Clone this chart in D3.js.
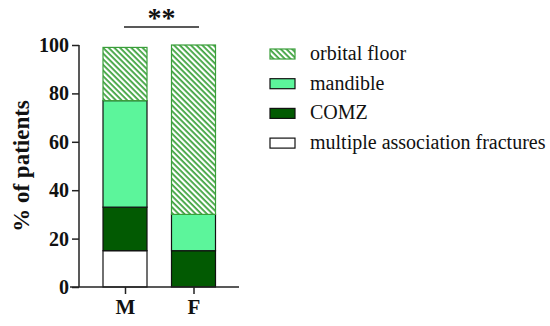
<!DOCTYPE html>
<html>
<head>
<meta charset="utf-8">
<script src="https://cdn.jsdelivr.net/npm/d3@7"></script>
<style>
  body { margin: 0; background: #fff; }
</style>
</head>
<body>
<svg width="550" height="326"></svg>
<script>
const groups = ['M', 'F'];
const seriesNames = ['multiple association fractures', 'COMZ', 'mandible', 'orbital floor'];
const multipleVals = [15, 0];
const comzVals = [18, 15];
const mandibleVals = [44, 15];
const orbitalVals = [22, 70];
const yTicks = [0, 20, 40, 60, 80, 100];
const legendOrder = ['orbital floor', 'mandible', 'COMZ', 'multiple association fractures'];

const svg = d3.select('svg');
const serif = '"Liberation Serif", "Times New Roman", serif';

const fills = {
    'multiple association fractures': '#ffffff',
    'COMZ': '#025a02',
    'mandible': '#5cf59b',
    'orbital floor': 'url(#hatch)'
};
const strokes = {
    'multiple association fractures': '#111',
    'COMZ': '#111',
    'mandible': '#111',
    'orbital floor': '#3a9e3a'
};

// diagonal hatch for orbital floor (lines running top-left to bottom-right)
const defs = svg.append('defs');
const pat = defs.append('pattern')
    .attr('id', 'hatch')
    .attr('patternUnits', 'userSpaceOnUse')
    .attr('width', 4)
    .attr('height', 4)
    .attr('patternTransform', 'rotate(45)');
pat.append('rect').attr('width', 4).attr('height', 4).attr('fill', '#fff');
pat.append('rect').attr('width', 4).attr('height', 1.8).attr('fill', '#3fa33f');

const data = groups.map((g, i) => ({
    group: g,
    'multiple association fractures': multipleVals[i],
    'COMZ': comzVals[i],
    'mandible': mandibleVals[i],
    'orbital floor': orbitalVals[i]
}));

const stacked = d3.stack().keys(seriesNames)(data);

const xScale = d3.scalePoint()
    .domain(groups)
    .range([125, 193.5]);

const yScale = d3.scaleLinear()
    .domain([0, 100])
    .range([287, 45]);

const barW = 44;

const g = svg.append('g');

stacked.forEach(layer => {
    g.selectAll(null)
        .data(layer.filter(d => d[1] - d[0] > 0))
        .enter().append('rect')
        .attr('x', d => xScale(d.data.group) - barW / 2)
        .attr('y', d => yScale(d[1]))
        .attr('width', barW)
        .attr('height', d => yScale(d[0]) - yScale(d[1]))
        .attr('fill', fills[layer.key])
        .attr('stroke', strokes[layer.key])
        .attr('stroke-width', 1.2);
});

// y axis
const yAxisG = svg.append('g')
    .attr('transform', 'translate(79,0)')
    .call(d3.axisLeft(yScale).tickValues(yTicks).tickSize(7).tickPadding(3));
yAxisG.select('.domain').attr('stroke', '#222').attr('stroke-width', 1.5)
    .attr('d', `M0,${yScale(100)}V${yScale(0)}`);
yAxisG.selectAll('.tick line').attr('stroke', '#222').attr('stroke-width', 1.5);
yAxisG.selectAll('.tick text')
    .style('font-family', serif)
    .style('font-weight', 'bold')
    .style('font-size', '20px')
    .attr('fill', '#111');

// x axis
const xAxisG = svg.append('g')
    .attr('transform', `translate(0,${yScale(0)})`)
    .call(d3.axisBottom(xScale).tickSize(7).tickPadding(5));
xAxisG.select('.domain').attr('stroke', '#222').attr('stroke-width', 1.5)
    .attr('d', 'M70,0H239');
xAxisG.selectAll('.tick line').attr('stroke', '#222').attr('stroke-width', 1.5);
xAxisG.selectAll('.tick text')
    .style('font-family', serif)
    .style('font-weight', 'bold')
    .style('font-size', '21px')
    .attr('fill', '#111');

// y axis label
svg.append('text')
    .attr('transform', `translate(29,${(yScale(0) + yScale(100)) / 2}) rotate(-90)`)
    .attr('text-anchor', 'middle')
    .style('font-family', serif)
    .style('font-weight', 'bold')
    .style('font-size', '23px')
    .attr('fill', '#111')
    .text('% of patients');

// significance bracket
svg.append('line')
    .attr('x1', 124).attr('x2', 199)
    .attr('y1', 27).attr('y2', 27)
    .attr('stroke', '#222').attr('stroke-width', 1.5);
svg.append('text')
    .attr('x', 161.5).attr('y', 27)
    .attr('text-anchor', 'middle')
    .style('font-family', serif)
    .style('font-weight', 'bold')
    .style('font-size', '28px')
    .attr('fill', '#111')
    .text('**');

// legend
const legend = svg.append('g').attr('transform', 'translate(270,54)');
legendOrder.forEach((name, i) => {
    const row = legend.append('g').attr('transform', `translate(0,${i * 29.7})`);
    row.append('rect')
        .attr('x', 0).attr('y', -5)
        .attr('width', 25).attr('height', 10)
        .attr('fill', fills[name])
        .attr('stroke', strokes[name])
        .attr('stroke-width', 1.2);
    row.append('text')
        .attr('x', 40).attr('y', 6)
        .style('font-family', serif)
        .style('font-size', '20px')
        .attr('fill', '#111')
        .text(name);
});
</script>
</body>
</html>
